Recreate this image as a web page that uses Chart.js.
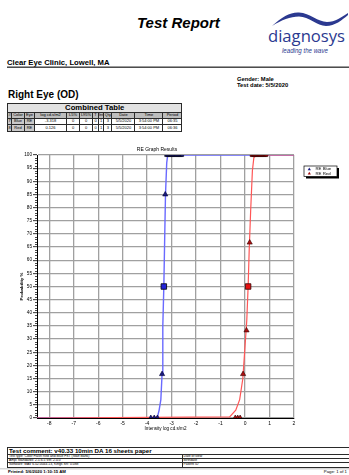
<!DOCTYPE html>
<html>
<head>
<meta charset="utf-8">
<script src="https://cdn.jsdelivr.net/npm/chart.js@4.4.0/dist/chart.umd.min.js"></script>
<style>
html,body{margin:0;padding:0;background:#fff;}
body{width:349px;height:475px;overflow:hidden;position:relative;font-family:"Liberation Sans",Arial,sans-serif;color:#000;}
svg.page{position:absolute;left:0;top:0;}
#chartBox{position:absolute;left:0;top:140px;width:349px;height:295px;}
table{position:absolute;border-collapse:collapse;table-layout:fixed;font-family:"Liberation Sans",Arial,sans-serif;}
#combined{left:7px;top:103px;}
#combined td,#combined th{border:1px solid #2a2a2a;padding:0;font-size:4px;line-height:4px;height:5.5px;text-align:center;white-space:nowrap;overflow:hidden;font-weight:normal;}
#combined th.ttl{font-size:7.7px;line-height:8px;height:8px;font-weight:bold;background:#e2e2e2;}
#combined tr.hdr th{background:#bdbdbd;height:4.5px;}
#combined td.key{background:#c9c9c9;}
#comment{left:7px;top:447px;width:350px;}
#comment td{border:1px solid #2a2a2a;padding:0 0 0 1px;font-size:3.4px;line-height:3.4px;height:3.4px;white-space:nowrap;overflow:hidden;}
#comment td.cm{font-size:6.2px;line-height:5.5px;height:5.5px;font-weight:bold;}
</style>
</head>
<body>
<svg class="page" width="349" height="475">
  <text x="137" y="27.5" font-size="15" font-weight="bold" font-style="italic">Test Report</text>
  <path d="M272,26 C282,17 290,12 299,12.5 C310,13 318,22 327,22 C335,22 342,17 348,13 L348,15 C342,20 335,26 326,26 C317,26 309,16.5 299,16.5 C290,16.5 282,20 272,26 Z" fill="#2b3990"/>
  <text x="268" y="41.5" font-family="Open Sans" font-size="16.5" fill="#2b3990" textLength="77" lengthAdjust="spacingAndGlyphs">diagnosys</text>
  <text x="282" y="52.5" font-size="6.3" font-style="italic" fill="#2b3990" textLength="46" lengthAdjust="spacingAndGlyphs">leading the wave</text>
  <text x="7" y="65" font-size="7.7" font-weight="bold">Clear Eye Clinic, Lowell, MA</text>
  <rect x="7" y="66.5" width="342" height="1.4" fill="#3a3a3a"/>
  <text x="237" y="80.5" font-size="5.8" font-weight="bold">Gender: Male</text>
  <text x="237" y="87" font-size="5.8" font-weight="bold">Test date: 5/5/2020</text>
  <text x="8" y="97.5" font-size="10" font-weight="bold">Right Eye (OD)</text>
  <rect x="0" y="468.6" width="349" height="0.6" fill="#9a9a9a"/>
  <text x="8" y="473.2" font-size="4.3" font-weight="bold">Printed: 5/6/2020 1:10:15 AM</text>
  <text x="347" y="473.2" font-size="4.3" text-anchor="end">Page: 1 of 1</text>
</svg>

<table id="combined"></table>

<table id="comment">
  <tr><td colspan="2" class="cm">Test comment: v40.33 10min DA 16 sheets paper</td></tr>
  <tr><td style="width:172px">Test type: Color Flash Red and Blue FST (Staff Bank)</td><td>Date of view</td></tr>
  <tr><td>Ampl Standards: 2.5.6.5 Ver. 2.0.0</td><td>Birthdate</td></tr>
  <tr><td>Software: MAV 6.02.0044.13, Kings SR: 0.088</td><td>Patient ID</td></tr>
</table>

<div id="chartBox"><canvas id="c" width="349" height="295"></canvas></div>

<script>
// ---- axis settings ----
const intensityMin = -8.5;
const intensityMax = 2;
const probabilityMin = 0;
const probabilityMax = 100;

// ---- threshold results (log cd.s/m2 at 50 %) ----
const stimulusIds = ['7', '8'];
const stimulusColors = ['Blue', 'Red'];
const eyeCodes = ['RE', 'RE'];
const thresholds = [-3.318, 0.126];
const lowPct = [0, 0];
const highPct = [0, 0];
const tValues = [0, 0];
const intValues = [1, 1];
const qtyValues = [3, 3];
const testDates = ['5/5/2020', '5/5/2020'];
const testTimes = ['3:54:00 PM', '3:54:00 PM'];
const periods = ['06:35', '06:36'];
const tableColumns = ['#', 'Color', 'Eye', 'log cd.s/m2', 'L5%', 'L95%', 'T', 'Int', 'Qty', 'Date', 'Time', 'Period'];
const columnWidths = [4, 13, 10, 32, 13, 13, 6, 5, 8, 23, 28, 19];

// ---- RE Blue ----
const blueCurveX = [-8.5, -3.59, -3.51, -3.44, -3.39, -3.36, -3.318, -3.28, -3.25, -3.2, -3.16, 2];
const blueCurveY = [0, 0, 3, 7, 16.7, 35, 50, 70, 85, 97, 100, 100];
const blueTrialX = [-3.85, -3.71, -3.58, -3.39, -3.26];
const blueTrialY = [0, 0, 0, 16.7, 85];
const blueCeilingX = [-3.22, -3.17, -3.12, -3.07, -3.02, -2.97, -2.92, -2.87, -2.82, -2.77, -2.72, -2.67, -2.62, -2.57];

// ---- RE Red ----
const redCurveX = [-8.5, -0.63, -0.38, -0.22, -0.09, -0.01, 0.07, 0.126, 0.17, 0.23, 0.3, 0.36, 0.48, 2];
const redCurveY = [0, 0.4, 3, 7, 15, 26, 37, 50, 64, 79, 94, 99, 100, 100];
const redTrialX = [-0.4, -0.3, -0.2, -0.08, 0.06, 0.19];
const redTrialY = [0, 0, 0, 16.7, 33.3, 66.7];
const redCeilingX = [0.27, 0.32, 0.37, 0.42, 0.47, 0.52, 0.57, 0.62, 0.67, 0.72, 0.77, 0.82, 0.87];

const seriesNames = ['RE Blue', 'RE Red'];
const FONT = '"Liberation Sans", Arial, sans-serif';

// ---- combined table ----
(function buildTable() {
  const t = document.getElementById('combined');
  let html = '<colgroup>' + columnWidths.map(w => '<col style="width:' + w + 'px">').join('') + '</colgroup>';
  html += '<tr><th class="ttl" colspan="' + tableColumns.length + '">Combined Table</th></tr>';
  html += '<tr class="hdr">' + tableColumns.map(c => '<th>' + c + '</th>').join('') + '</tr>';
  for (let i = 0; i < stimulusIds.length; i++) {
    html += '<tr>' +
      '<td class="key">' + stimulusIds[i] + '</td>' +
      '<td class="key">' + stimulusColors[i] + '</td>' +
      '<td class="key">' + eyeCodes[i] + '</td>' +
      '<td>' + thresholds[i].toFixed(3) + '</td>' +
      '<td>' + lowPct[i] + '</td><td>' + highPct[i] + '</td>' +
      '<td>' + tValues[i] + '</td><td>' + intValues[i] + '</td><td>' + qtyValues[i] + '</td>' +
      '<td>' + testDates[i] + '</td><td>' + testTimes[i] + '</td><td>' + periods[i] + '</td></tr>';
  }
  t.innerHTML = html;
})();

const pts = (xs, ys) => xs.map((x, i) => ({x: x, y: Array.isArray(ys) ? ys[i] : ys}));

// chart title, boxed legend with drop shadow, and minor ticks on the probability axis
const decor = {
  id: 'decor',
  afterDraw(chart) {
    const {ctx, chartArea: a, scales} = chart;
    ctx.save();
    // minor ticks
    ctx.strokeStyle = '#000';
    ctx.lineWidth = 0.7;
    for (let v = probabilityMin; v <= probabilityMax; v++) {
      if (v % 5 === 0) continue;
      const y = Math.round(scales.y.getPixelForValue(v)) + 0.5;
      ctx.beginPath(); ctx.moveTo(a.left - 2, y); ctx.lineTo(a.left, y); ctx.stroke();
    }
    // title
    ctx.fillStyle = '#000';
    ctx.font = '5px ' + FONT;
    ctx.textAlign = 'center';
    ctx.textBaseline = 'middle';
    ctx.fillText('RE Graph Results', (a.left + a.right) / 2 - 8.5, a.top - 5.7);
    // legend
    const bx = a.right + 10, by = a.top + 11, bw = 33, bh = 10.5;
    ctx.fillStyle = '#000';
    ctx.fillRect(bx + 2, by + 2, bw, bh);
    ctx.fillStyle = '#fff';
    ctx.fillRect(bx, by, bw, bh);
    ctx.strokeStyle = '#000';
    ctx.lineWidth = 0.7;
    ctx.strokeRect(bx, by, bw, bh);
    const legendColors = ['#1a1a80', '#a01010'];
    ctx.font = '4.3px ' + FONT;
    ctx.textAlign = 'left';
    seriesNames.forEach((name, i) => {
      const cy = by + 3 + i * 4.4;
      const tx = bx + 5.3;
      ctx.fillStyle = legendColors[i];
      ctx.beginPath();
      ctx.moveTo(tx, cy - 1.6); ctx.lineTo(tx + 1.6, cy + 1.2); ctx.lineTo(tx - 1.6, cy + 1.2); ctx.closePath();
      ctx.fill();
      ctx.fillStyle = '#000';
      ctx.fillText(name, bx + 11.5, cy);
    });
    ctx.restore();
  }
};

new Chart(document.getElementById('c'), {
  type: 'scatter',
  data: {
    datasets: [
      {
        label: 'RE Blue fit', data: pts(blueCurveX, blueCurveY), showLine: true,
        borderColor: '#6a6aff', borderWidth: 1.4, pointRadius: 0, tension: 0, order: 6
      },
      {
        label: 'RE Red fit', data: pts(redCurveX, redCurveY), showLine: true,
        borderColor: '#ff5656', borderWidth: 1.2, pointRadius: 0, tension: 0, order: 5,
        segment: {
          borderColor: c => (c.p0.parsed.y === 0 && c.p1.parsed.y === 0) ? '#c80000' : undefined,
          borderWidth: c => (c.p0.parsed.y === 0 && c.p1.parsed.y === 0) ? 2 : undefined
        }
      },
      {
        label: 'RE Blue at 100', data: pts(blueCeilingX, 100), pointStyle: 'rect', pointRadius: 2.2,
        backgroundColor: '#1a1a70', borderColor: '#000', borderWidth: 0.5, order: 4
      },
      {
        label: 'RE Red at 100', data: pts(redCeilingX, 100), pointStyle: 'rect', pointRadius: 2.2,
        backgroundColor: '#8a0a0a', borderColor: '#200000', borderWidth: 0.5, order: 4
      },
      {
        label: 'RE Blue', data: pts(blueTrialX, blueTrialY), pointStyle: 'triangle', pointRadius: 3,
        backgroundColor: '#1a1a80', borderColor: '#000033', borderWidth: 0.6, order: 2
      },
      {
        label: 'RE Red', data: pts(redTrialX, redTrialY), pointStyle: 'triangle', pointRadius: 3,
        backgroundColor: '#b01010', borderColor: '#300000', borderWidth: 0.6, order: 2
      },
      {
        label: 'RE Blue threshold', data: [{x: thresholds[0], y: 50}], pointStyle: 'rect', pointRadius: 3.9,
        backgroundColor: '#2323d8', borderColor: '#000', borderWidth: 0.8, order: 1
      },
      {
        label: 'RE Red threshold', data: [{x: thresholds[1], y: 50}], pointStyle: 'rect', pointRadius: 3.9,
        backgroundColor: '#e81010', borderColor: '#300000', borderWidth: 0.8, order: 1
      }
    ]
  },
  options: {
    responsive: false,
    animation: false,
    devicePixelRatio: 1,
    layout: {padding: {top: 15, right: 55, left: 0, bottom: 0}},
    plugins: {legend: {display: false}, tooltip: {enabled: false}, title: {display: false}},
    scales: {
      x: {
        type: 'linear', min: intensityMin, max: intensityMax,
        afterFit: s => { s.height = 17; },
        grid: {color: '#a0a0a0', lineWidth: 1.3, drawTicks: false},
        border: {color: '#000', width: 1},
        ticks: {stepSize: 1, includeBounds: false, autoSkip: false, maxRotation: 0, padding: 3,
                color: '#000', font: {size: 5, family: FONT}},
        title: {display: true, text: 'Intensity log cd.s/m2', color: '#000',
                font: {size: 4.6, family: FONT}, padding: {top: 0, bottom: 4}}
      },
      y: {
        type: 'linear', min: probabilityMin, max: probabilityMax,
        afterFit: s => { s.width = 37; },
        grid: {color: '#a0a0a0', lineWidth: 1.3, tickLength: 4, tickColor: '#000', tickWidth: 0.8},
        border: {color: '#000', width: 1},
        ticks: {stepSize: 5, autoSkip: false, padding: 1, color: '#000', font: {size: 4.7, family: FONT}},
        title: {display: true, text: 'Probability %', color: '#000',
                font: {size: 4.4, family: FONT, weight: 'bold'}, padding: {top: 19, bottom: 0}}
      }
    }
  },
  plugins: [decor]
});
</script>
</body>
</html>
